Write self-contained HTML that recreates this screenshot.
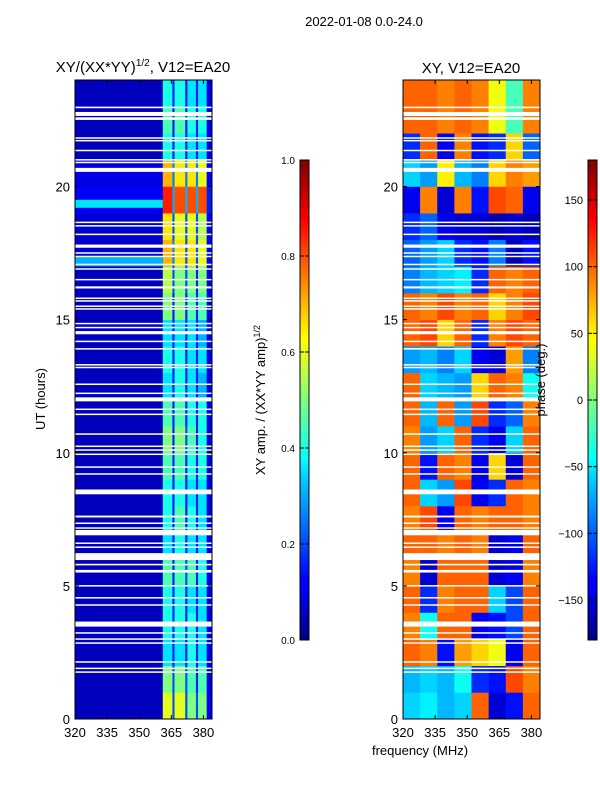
<!DOCTYPE html>
<html><head><meta charset="utf-8"><style>
body{margin:0;background:#fff;}
svg text{font-family:"Liberation Sans",sans-serif;fill:#000;}
</style></head><body>
<svg id="fig" width="600" height="800" xmlns="http://www.w3.org/2000/svg">
<defs>
<linearGradient id="jetV" x1="0" y1="1" x2="0" y2="0">
<stop offset="0" stop-color="#000080"/><stop offset="0.11" stop-color="#0000ff"/><stop offset="0.125" stop-color="#0000ff"/><stop offset="0.34" stop-color="#00d0ff"/><stop offset="0.375" stop-color="#00ffff"/><stop offset="0.5" stop-color="#80ff80"/><stop offset="0.625" stop-color="#ffff00"/><stop offset="0.66" stop-color="#ffe000"/><stop offset="0.875" stop-color="#ff0000"/><stop offset="1" stop-color="#800000"/>
</linearGradient>
</defs>
<text x="364" y="26" font-size="13" text-anchor="middle">2022-01-08 0.0-24.0</text>
<g id="left"></g>
<g id="right"></g>
<text x="143" y="72" font-size="15" text-anchor="middle">XY/(XX*YY)<tspan font-size="10" dy="-6">1/2</tspan><tspan dy="6">, V12=EA20</tspan></text>
<text x="471" y="73" font-size="15" text-anchor="middle">XY, V12=EA20</text>
<text font-size="13" text-anchor="middle" transform="translate(45,399) rotate(-90)">UT (hours)</text>
<text x="420" y="755" font-size="13" text-anchor="middle">frequency (MHz)</text>
<rect x="300" y="160" width="9" height="480" fill="url(#jetV)" stroke="#000" stroke-width="1"/>
<rect x="588" y="160" width="9" height="480" fill="url(#jetV)" stroke="#000" stroke-width="1"/>
<text font-size="13" text-anchor="middle" transform="translate(265,400) rotate(-90)">XY amp. / (XX*YY amp)<tspan font-size="9" dy="-5">1/2</tspan></text>
<text font-size="13" text-anchor="middle" transform="translate(545,380) rotate(-90)">phase (deg.)</text>
<g id="cb"></g>
</svg>
<script>
// amplitude: 24 hourly rows; columns by freq edges
const ampFreqEdges=[320,361,365.5,366.5,371.5,372.5,376.5,377.5,381.5,384];
const ampValues=[
[0.06,0.6,0.2,0.6,0.2,0.5,0.2,0.5,0.12],
[0.06,0.5,0.2,0.5,0.2,0.45,0.15,0.45,0.1],
[0.06,0.35,0.15,0.35,0.15,0.4,0.15,0.35,0.1],
[0.06,0.4,0.15,0.4,0.15,0.4,0.15,0.35,0.1],
[0.06,0.4,0.15,0.4,0.15,0.35,0.15,0.35,0.1],
[0.06,0.45,0.15,0.45,0.2,0.45,0.15,0.4,0.1],
[0.06,0.35,0.15,0.4,0.15,0.35,0.15,0.35,0.1],
[0.06,0.4,0.15,0.45,0.15,0.4,0.15,0.35,0.1],
[0.06,0.4,0.15,0.4,0.15,0.35,0.15,0.35,0.1],
[0.06,0.45,0.15,0.45,0.15,0.4,0.15,0.4,0.1],
[0.06,0.5,0.15,0.5,0.2,0.45,0.15,0.4,0.1],
[0.06,0.45,0.15,0.45,0.15,0.4,0.15,0.4,0.1],
[0.06,0.35,0.15,0.4,0.15,0.35,0.15,0.3,0.1],
[0.06,0.4,0.15,0.4,0.15,0.35,0.15,0.35,0.1],
[0.06,0.35,0.15,0.35,0.15,0.35,0.15,0.3,0.1],
[0.06,0.5,0.15,0.5,0.15,0.45,0.15,0.45,0.1],
[0.06,0.55,0.2,0.5,0.2,0.5,0.15,0.5,0.1],
[0.08,0.7,0.25,0.65,0.2,0.65,0.2,0.6,0.12],
[0.08,0.65,0.2,0.6,0.2,0.6,0.2,0.55,0.12],
[0.12,0.85,0.3,0.8,0.3,0.8,0.3,0.8,0.15],
[0.1,0.7,0.25,0.65,0.25,0.65,0.25,0.6,0.12],
[0.06,0.4,0.15,0.4,0.15,0.35,0.15,0.35,0.1],
[0.06,0.45,0.15,0.45,0.15,0.4,0.15,0.4,0.1],
[0.06,0.4,0.15,0.4,0.15,0.35,0.15,0.35,0.1]];
const ampBands=[[19.2,19.5,0.35],[17.0,17.35,0.3]];
// phase: 24 hourly rows x 8 freq bins (8 MHz)
const phaseFreqEdges=[320,328,336,344,352,360,368,376,384];
const phaseValues=[
[-60,-50,-70,-60,100,-150,-130,100],
[-70,-60,-70,-40,-120,-130,110,90],
[100,90,-130,80,60,40,-140,100],
[90,-40,100,100,-140,-130,-110,100],
[100,-120,90,100,100,-60,-110,100],
[90,-150,100,100,100,-150,-140,90],
[100,100,90,100,90,-150,-140,100],
[90,110,-140,100,90,100,100,90],
[100,-60,-80,110,-140,-120,100,90],
[100,-130,100,90,-140,60,-150,100],
[90,-80,-60,100,-120,-140,-60,100],
[100,-70,100,-80,110,-120,-100,90],
[100,-60,-70,-80,60,100,90,-40],
[-80,-70,-90,-60,-140,-150,80,-90],
[100,110,60,100,-120,90,110,100],
[100,90,110,90,100,60,90,110],
[-90,-70,-60,-50,-120,100,90,100],
[-100,-80,-60,-120,-130,-90,-160,-130],
[-120,-100,-140,-150,-150,-160,-150,-160],
[-140,90,-150,90,-130,110,100,-140],
[-60,-80,50,-70,-90,60,90,80],
[-120,100,-140,90,-130,-120,60,-100],
[100,100,90,100,90,40,-20,90],
[100,100,90,100,90,40,-20,90]];
// flagged (white) time ranges in hours
const gaps=[[22.94,23.0],[22.65,22.8],[22.5,22.6],[21.8,21.85],[21.7,21.75],[21.33,21.38],[20.98,21.03],[20.88,20.93],[20.55,20.7],
[18.63,18.68],[18.5,18.55],[18.18,18.23],[17.7,17.82],[17.48,17.53],[17.35,17.4],[17.05,17.1],[16.88,16.93],[16.48,16.53],[16.17,16.25],
[15.78,15.83],[15.68,15.73],[15.48,15.53],[15.38,15.43],[14.83,14.88],[14.68,14.73],[14.45,14.57],[14.16,14.21],[13.88,13.93],[13.28,13.33],[13.18,13.23],
[12.55,12.6],[12.21,12.26],[11.93,12.08],[11.61,11.66],[11.42,11.47],[10.68,10.73],[10.22,10.27],[10.08,10.13],[9.92,9.97],[9.44,9.49],[9.18,9.23],
[8.44,8.62],[7.57,7.64],[7.33,7.38],[7.15,7.2],[6.9,7.1],[6.58,6.63],[6.43,6.48],[5.97,6.23],[5.77,5.83],[5.5,5.6],[4.98,5.03],[4.53,4.58],[4.26,4.31],
[3.47,3.66],[3.21,3.26],[2.98,3.03],[2.83,2.88],[2.12,2.17],[1.88,1.93],[1.74,1.79]];
const ampTicks=[0,0.2,0.4,0.6,0.8,1.0];
const phaseTicks=[-150,-100,-50,0,50,100,150];
const yTicks=[0,5,10,15,20];
const xTicks=[320,335,350,365,380];

const NS='http://www.w3.org/2000/svg';
function mk(tag,attrs,parent){const e=document.createElementNS(NS,tag);for(const k in attrs)e.setAttribute(k,attrs[k]);parent.appendChild(e);return e;}
function jet(v){v=Math.max(0,Math.min(1,v));const c=x=>Math.round(255*Math.max(0,Math.min(1,1.5-Math.abs(4*v-x))));return `rgb(${c(3)},${c(2)},${c(1)})`;}
const PT=80,PB=719,PH=PB-PT;
function yS(t){return PB-t/24*PH;}
function panel(g,x0,edges,vals,norm,bands){
  const w=137;const xS=f=>x0+(f-320)/64*w;
  vals.forEach((row,i)=>{row.forEach((v,j)=>{
    const r=mk('rect',{x:xS(edges[j]),y:yS(i+1),width:xS(edges[j+1])-xS(edges[j])+0.3,height:yS(i)-yS(i+1)+0.3,fill:jet(norm(v))},g);
    
    
  });});
  (bands||[]).forEach(b=>{const r=mk('rect',{x:x0,y:yS(b[1]),width:xS(361)-x0,height:yS(b[0])-yS(b[1]),fill:jet(b[2])},g);
    
    });
  gaps.forEach(gp=>{const r=mk('rect',{x:x0,y:yS(gp[1]),width:w,height:Math.max(1.5,yS(gp[0])-yS(gp[1])),fill:'#fff'},g);
    
    });
  const f=mk('rect',{x:x0,y:PT,width:w,height:PH,fill:'none',stroke:'#000','stroke-width':1},g);
  
  
  yTicks.forEach(t=>{const y=yS(t);mk('line',{x1:x0,x2:x0+4,y1:y,y2:y,stroke:'#000'},g);mk('line',{x1:x0+w-4,x2:x0+w,y1:y,y2:y,stroke:'#000'},g);
    const tx=mk('text',{x:x0-5,y:y+5,'font-size':13,'text-anchor':'end'},g);tx.textContent=t;
    
    });
  xTicks.forEach(f=>{const x=xS(f);mk('line',{x1:x,x2:x,y1:PB,y2:PB-4,stroke:'#000'},g);mk('line',{x1:x,x2:x,y1:PT,y2:PT+4,stroke:'#000'},g);
    const tx=mk('text',{x:x,y:737,'font-size':13,'text-anchor':'middle'},g);tx.textContent=f;
    
    });
}
panel(document.getElementById('left'),75,ampFreqEdges,ampValues,v=>v,ampBands);
panel(document.getElementById('right'),403,phaseFreqEdges,phaseValues,v=>(v+180)/360,null);
const cb=document.getElementById('cb');
ampTicks.forEach(t=>{const y=640-t*480;mk('line',{x1:300,x2:304,y1:y,y2:y,stroke:'#000'},cb);mk('line',{x1:305,x2:309,y1:y,y2:y,stroke:'#000'},cb);
  const tx=mk('text',{x:295,y:y+4,'font-size':10,'text-anchor':'end'},cb);tx.textContent=t.toFixed(1);
  
  });
phaseTicks.forEach(t=>{const y=640-(t+180)/360*480;mk('line',{x1:588,x2:592,y1:y,y2:y,stroke:'#000'},cb);mk('line',{x1:593,x2:597,y1:y,y2:y,stroke:'#000'},cb);
  const tx=mk('text',{x:583,y:y+4,'font-size':11,'text-anchor':'end'},cb);tx.textContent=t<0?'\u2212'+(-t):t;
  
  });
</script>
</body></html>
